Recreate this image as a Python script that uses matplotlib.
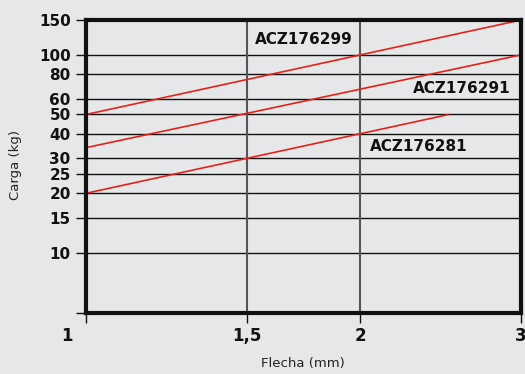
import matplotlib
matplotlib.use("Agg")
import matplotlib.pyplot as plt
from matplotlib.ticker import FixedLocator, NullLocator, NullFormatter

# data
series_names = ["ACZ176299", "ACZ176291", "ACZ176281"]
series_x = [[1, 3], [1, 3], [1, 2.5]]
series_y = [[50, 150], [34, 100], [20, 50]]
x_ticks = [1, 1.5, 2, 3]
x_tick_labels = ["1", "1,5", "2", "3"]
y_ticks = [10, 15, 20, 25, 30, 40, 50, 60, 80, 100, 150]
y_tick_labels = ["10", "15", "20", "25", "30", "40", "50", "60", "80", "100", "150"]

bg = "#e6e7e9"
red = "#e2231a"

fig = plt.figure(figsize=(5.25, 3.74), dpi=100, facecolor=bg)
ax = fig.add_axes([0.1638, 0.1644, 0.8286, 0.7821])
ax.set_facecolor(bg)
ax.set_xscale("log")
ax.set_yscale("log")
ax.set_xlim(1, 3)
ax.set_ylim(5, 150)

# grid lines
for v in y_ticks[:-1]:
    ax.axhline(v, color="#111111", lw=1.0, zorder=1)
for v in [1.5, 2]:
    ax.axvline(v, color="#555555", lw=1.5, zorder=1)

for xs, ys in zip(series_x, series_y):
    ax.plot(xs, ys, color=red, lw=1.2, zorder=3, solid_capstyle="butt")

ax.xaxis.set_major_locator(FixedLocator(x_ticks))
ax.xaxis.set_minor_locator(NullLocator())
ax.xaxis.set_minor_formatter(NullFormatter())
ax.set_xticklabels([""] * len(x_ticks))
ax.yaxis.set_major_locator(FixedLocator(y_ticks + [5]))
ax.yaxis.set_minor_locator(NullLocator())
ax.yaxis.set_minor_formatter(NullFormatter())
ax.set_yticklabels(y_tick_labels + [""], fontsize=11, fontweight="bold", color="#111111")

ax.tick_params(axis="y", direction="out", length=7, width=1.0, pad=4, color="#111111")
ax.tick_params(axis="x", direction="out", length=7, width=1.0, color="#111111")

# x tick labels placed manually (first one offset left as in reference)
label_offsets = [-19, 0, 0, 0]
for v, lab, off in zip(x_ticks, x_tick_labels, label_offsets):
    ax.annotate(lab, xy=(v, 0), xycoords=("data", "axes fraction"),
                xytext=(off, -23), textcoords="offset pixels",
                ha="center", va="center", fontsize=12, fontweight="bold",
                color="#111111", annotation_clip=False)

for s in ax.spines.values():
    s.set_linewidth(3)
    s.set_color("#111111")
    s.set_zorder(5)

ax.text(1.532, 119, series_names[0], ha="left", va="center", fontsize=11, fontweight="bold", color="#111111")
ax.text(2.925, 67.5, series_names[1], ha="right", va="center", fontsize=11, fontweight="bold", color="#111111")
ax.text(2.049, 34.4, series_names[2], ha="left", va="center", fontsize=11, fontweight="bold", color="#111111")

fig.text(15 / 525, 1 - 165 / 374, "Carga (kg)", rotation=90, ha="center", va="center", fontsize=9.5, color="#222222")
fig.text(303 / 525, 1 - 364 / 374, "Flecha (mm)", ha="center", va="center", fontsize=9.5, color="#222222")

fig.savefig("out.png", dpi=100, facecolor=bg)
